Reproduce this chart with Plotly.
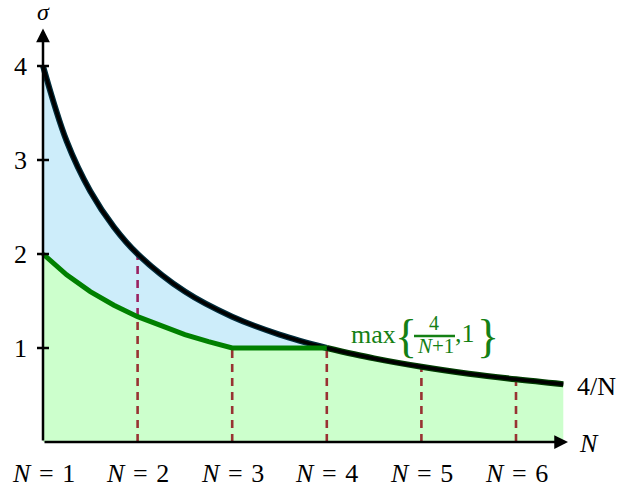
import plotly.graph_objects as go

# ---- data ----
n_curve = [1, 1.25, 1.5, 1.75, 2, 2.5, 3, 3.5, 4, 4.5, 5, 5.5, 6, 6.5]
sigma_curve = [4.0, 3.2, 2.667, 2.286, 2.0, 1.6, 1.333, 1.143, 1.0, 0.889, 0.8, 0.727, 0.667, 0.615]
n_bound = [1, 1.25, 1.5, 1.75, 2, 2.25, 2.5, 2.75, 3, 4]
sigma_bound = [2.0, 1.778, 1.6, 1.455, 1.333, 1.231, 1.143, 1.067, 1.0, 1.0]
dash_n = [2, 3, 4, 5, 6]
dash_top = [2.0, 1.0, 1.0, 0.8, 0.667]
y_ticks = [1, 2, 3, 4]
x_ticks = [1, 2, 3, 4, 5, 6]
x_tick_labels = ["<i>N</i>\u2004=\u20041", "<i>N</i>\u2004=\u20042", "<i>N</i>\u2004=\u20043",
                 "<i>N</i>\u2004=\u20044", "<i>N</i>\u2004=\u20045", "<i>N</i>\u2004=\u20046"]

# ---- layout geometry ----
W, H = 621, 488
X0, XS = 43, 94.6   # pixel of N=1, pixels per unit
Y0, YS = 442, 94.0  # pixel of sigma=0, pixels per unit
xr = [1 - X0 / XS, 1 + (W - X0) / XS]
yr = [-(H - Y0) / YS, Y0 / YS]

FONT = "Liberation Serif"
GREEN_TXT = "rgb(20,128,20)"
GREEN_FILL = "rgba(0,255,0,0.2)"
BLUE_FILL = "rgba(5,165,230,0.2)"
DASH_COL = "rgb(191,0,64)"
FS = 26

def px(x):
    return x / W

def py(y):
    return 1 - y / H

def label(x, y, text, size=FS, color="black"):
    return dict(x=px(x), y=py(y), xref="paper", yref="paper", text=text, showarrow=False,
                xanchor="center", yanchor="middle", font=dict(family=FONT, size=size, color=color))

i4 = n_curve.index(4)
n_a, s_a = n_curve[: i4 + 1], sigma_curve[: i4 + 1]
n_b, s_b = n_curve[i4:], sigma_curve[i4:]

fig = go.Figure()
# green fill under the bound (1..4)
fig.add_trace(go.Scatter(x=n_bound, y=sigma_bound, mode="lines", line=dict(width=0),
                         fill="tozeroy", fillcolor=GREEN_FILL, hoverinfo="skip"))
# blue fill between bound and 4/N (1..4)
fig.add_trace(go.Scatter(x=n_a, y=s_a, mode="lines", line=dict(width=0, shape="spline"),
                         fill="tonexty", fillcolor=BLUE_FILL, hoverinfo="skip"))
# green fill under 4/N (4..6.5)
fig.add_trace(go.Scatter(x=n_b, y=s_b, mode="lines", line=dict(width=0, shape="spline"),
                         fill="tozeroy", fillcolor=GREEN_FILL, hoverinfo="skip"))
# halo edges of the 4/N curve
fig.add_trace(go.Scatter(x=n_a, y=s_a, mode="lines",
                         line=dict(width=6, color="rgb(0,45,60)", shape="spline"), hoverinfo="skip"))
fig.add_trace(go.Scatter(x=n_b, y=s_b, mode="lines",
                         line=dict(width=6, color="rgb(0,60,0)", shape="spline"), hoverinfo="skip"))
# 4/N curve
fig.add_trace(go.Scatter(x=n_curve, y=sigma_curve, mode="lines",
                         line=dict(width=3.5, color="black", shape="spline"), hoverinfo="skip"))
# green bound curve
fig.add_trace(go.Scatter(x=n_bound, y=sigma_bound, mode="lines",
                         line=dict(width=5, color="rgb(0,128,0)"), hoverinfo="skip"))

shapes = []
for n, t in zip(dash_n, dash_top):
    shapes.append(dict(type="line", xref="x", yref="y", x0=n, x1=n, y0=0, y1=t, layer="below",
                       line=dict(color=DASH_COL, width=2.6, dash="8px,6px")))
for yt in y_ticks:
    shapes.append(dict(type="line", xref="x", yref="y", x0=1 - 6 / XS, x1=1 + 6 / XS, y0=yt, y1=yt,
                       line=dict(color="black", width=2.5)))
# fraction bar
shapes.append(dict(type="line", xref="paper", yref="paper", x0=px(414), x1=px(455), y0=py(336), y1=py(336),
                   line=dict(color=GREEN_TXT, width=2.5)))

ann = []
# axes with arrows
ann.append(dict(x=6.55, y=0, ax=1, ay=0, xref="x", yref="y", axref="x", ayref="y", text="",
                showarrow=True, arrowhead=2, arrowsize=1.1, arrowwidth=2.5, arrowcolor="black", standoff=0))
ann.append(dict(x=1, y=4.40, ax=1, ay=0, xref="x", yref="y", axref="x", ayref="y", text="",
                showarrow=True, arrowhead=2, arrowsize=1.1, arrowwidth=2.5, arrowcolor="black", standoff=0))
for xt, lab in zip(x_ticks, x_tick_labels):
    ann.append(dict(x=xt, y=py(473), xref="x", yref="paper", text=lab, showarrow=False,
                    font=dict(family=FONT, size=FS, color="black"), xanchor="center", yanchor="middle"))
for yt in y_ticks:
    ann.append(dict(x=px(20), y=yt, xref="paper", yref="y", text=str(yt), showarrow=False,
                    font=dict(family=FONT, size=FS, color="black"), xanchor="center", yanchor="middle"))
ann.append(label(43, 12, "<i>σ</i>", size=24))
ann.append(label(589, 443, "<i>N</i>"))
ann.append(label(596, 386, "4/N"))
# max{4/(N+1),1} label
ann.append(label(373, 334, "max", color=GREEN_TXT))
ann.append(label(406, 336, "{", size=46, color=GREEN_TXT))
ann.append(label(434, 323, "4", size=20, color=GREEN_TXT))
ann.append(label(435, 346, "<i>N</i>+1", size=21, color=GREEN_TXT))
ann.append(label(465, 333, ",1", color=GREEN_TXT))
ann.append(label(488, 336, "}", size=46, color=GREEN_TXT))

fig.update_layout(
    width=W, height=H, margin=dict(l=0, r=0, t=0, b=0),
    paper_bgcolor="white", plot_bgcolor="white", showlegend=False,
    xaxis=dict(range=xr, visible=False, fixedrange=True),
    yaxis=dict(range=yr, visible=False, fixedrange=True),
    shapes=shapes, annotations=ann,
)
fig.write_html("out.html", config={"displayModeBar": False},
               post_script="document.body.style.margin='0';document.body.style.overflow='hidden';")
